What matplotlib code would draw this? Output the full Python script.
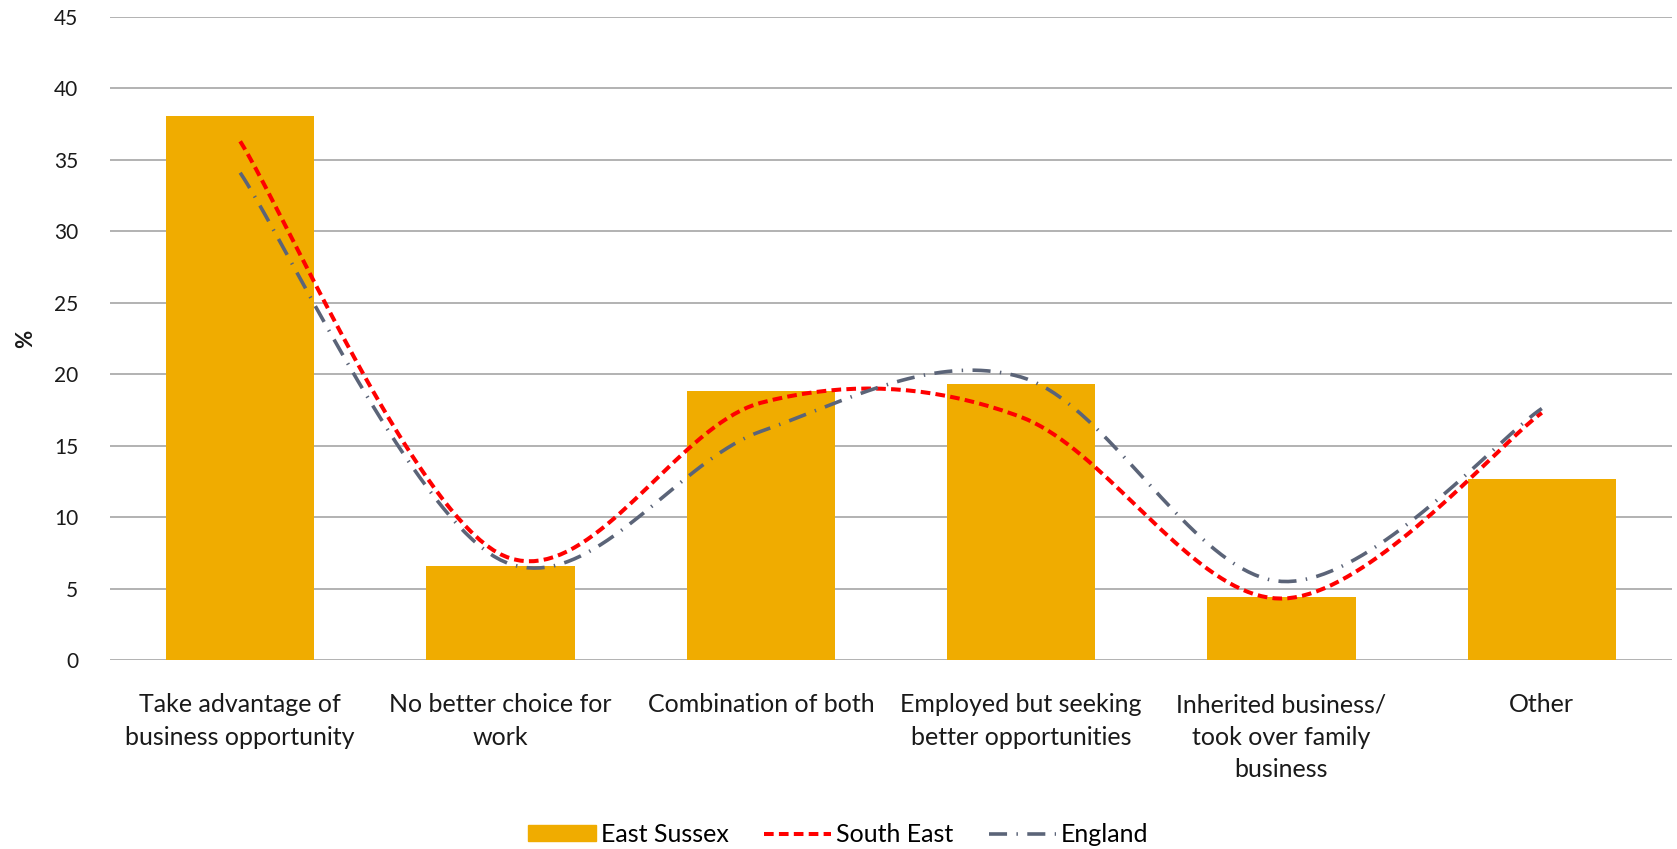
import numpy as np
import matplotlib.pyplot as plt
from matplotlib.patches import Patch
from matplotlib.lines import Line2D

plt.rcParams['font.family'] = ['Lato', 'DejaVu Sans']

categories = ['Take advantage of\nbusiness opportunity', 'No better choice for\nwork',
              'Combination of both', 'Employed but seeking\nbetter opportunities',
              'Inherited business/\ntook over family\nbusiness', 'Other']
east_sussex = [38.1, 6.6, 18.8, 19.3, 4.4, 12.7]
south_east = [36.3, 7.4, 18.0, 17.0, 4.3, 17.3]
england = [34.1, 7.0, 16.0, 19.8, 5.5, 17.6]


def smooth(xs, ys, n=40):
    # bezier smoothing through each point, like a spreadsheet's smoothed line
    xs = np.asarray(xs, float)
    ys = np.asarray(ys, float)
    px = np.concatenate([[xs[0]], xs, [xs[-1]]])
    py = np.concatenate([[ys[0]], ys, [ys[-1]]])
    outx, outy = [], []
    t = np.linspace(0, 1, n)
    for i in range(1, len(px) - 2):
        p0 = np.array([px[i], py[i]])
        p3 = np.array([px[i + 1], py[i + 1]])
        c1 = p0 + (np.array([px[i + 1], py[i + 1]]) - np.array([px[i - 1], py[i - 1]])) / 6
        c2 = p3 - (np.array([px[i + 2], py[i + 2]]) - np.array([px[i], py[i]])) / 6
        b = ((1 - t) ** 3)[:, None] * p0 + (3 * (1 - t) ** 2 * t)[:, None] * c1 \
            + (3 * (1 - t) * t ** 2)[:, None] * c2 + (t ** 3)[:, None] * p3
        outx.extend(b[:, 0])
        outy.extend(b[:, 1])
    return outx, outy


fig = plt.figure(figsize=(16.77, 8.49), dpi=100)
ax = fig.add_axes([0.0656, 0.2226, 0.9314, 0.7574])

x = np.arange(len(categories))
bar_color = '#F0AC00'
red = '#FF0000'
grey = '#5B6478'
red_dash = (2.4, 1.3)
grey_dash = (5.0, 2.6, 0.4, 2.6)

ax.bar(x, east_sussex, width=0.57, color=bar_color, zorder=2)

sx, sy = smooth(x, south_east)
ax.plot(sx, sy, color=red, lw=2.9, dashes=red_dash, zorder=3)
gx, gy = smooth(x, england)
ax.plot(gx, gy, color=grey, lw=2.6, dashes=grey_dash, zorder=3)

ax.set_xlim(-0.5, 5.5)
ax.set_ylim(0, 45)
ax.set_yticks(range(0, 46, 5))
ax.set_xticks(x)
ax.set_xticklabels(categories, fontsize=18, color='#1a1a1a', linespacing=1.5)
ax.tick_params(axis='y', labelsize=15, colors='#1a1a1a', length=0, pad=23)
ax.tick_params(axis='x', length=0, pad=24)
ax.grid(axis='y', color='#a6a6a6', lw=1.2, zorder=0)
for s in ax.spines.values():
    s.set_visible(False)
ax.set_ylabel('%', fontsize=16, fontweight='bold', labelpad=13, color='#1a1a1a')

handles = [Patch(color=bar_color, label='East Sussex'),
           Line2D([], [], color=red, lw=2.9, dashes=red_dash, label='South East'),
           Line2D([], [], color=grey, lw=2.6, dashes=grey_dash, label='England')]
fig.legend(handles=handles, loc='center', bbox_to_anchor=(0.5, 0.017), ncol=3,
           frameon=False, fontsize=18, handlelength=2.7, handleheight=0.6,
           columnspacing=1.4, handletextpad=0.2)

fig.savefig('out.png', dpi=100)
